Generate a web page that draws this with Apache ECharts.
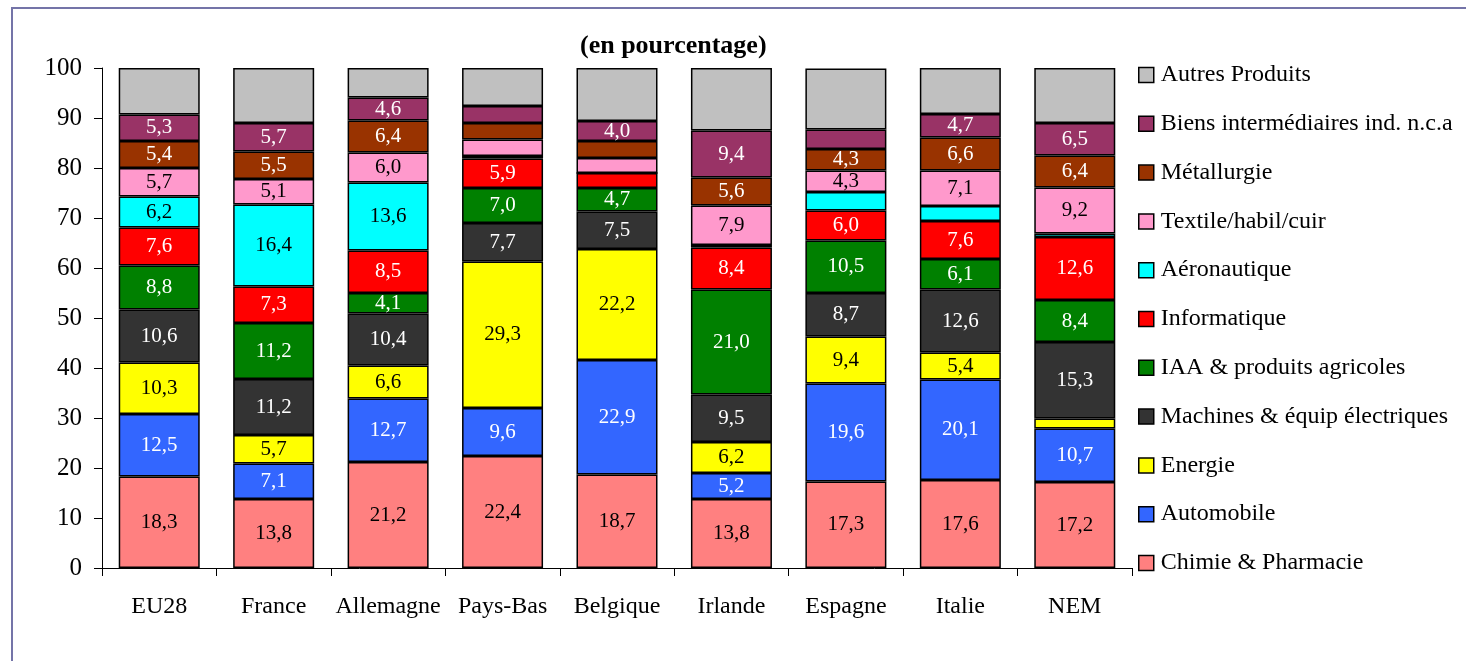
<!DOCTYPE html>
<html>
<head>
<meta charset="utf-8">
<script src="https://cdn.jsdelivr.net/npm/echarts@6/dist/echarts.min.js"></script>
<style>
  html, body { margin: 0; padding: 0; background: #fff; }
  #chart { width: 1466px; height: 661px; }
</style>
</head>
<body>
<div id="chart"></div>
<script>
// pays
var categories = ["EU28", "France", "Allemagne", "Pays-Bas", "Belgique", "Irlande", "Espagne", "Italie", "NEM"];

// séries, du bas vers le haut de la pile
var chimie      = [18.3, 13.8, 21.2, 22.4, 18.7, 13.8, 17.3, 17.6, 17.2];
var automobile  = [12.5, 7.1, 12.7, 9.6, 22.9, 5.2, 19.6, 20.1, 10.7];
var energie     = [10.3, 5.7, 6.6, 29.3, 22.2, 6.2, 9.4, 5.4, 2.0];
var machines    = [10.6, 11.2, 10.4, 7.7, 7.5, 9.5, 8.7, 12.6, 15.3];
var iaa         = [8.8, 11.2, 4.1, 7.0, 4.7, 21.0, 10.5, 6.1, 8.4];
var informatique= [7.6, 7.3, 8.5, 5.9, 3.0, 8.4, 6.0, 7.6, 12.6];
var aero        = [6.2, 16.4, 13.6, 0.5, 0, 0.5, 3.7, 3.0, 0.7];
var textile     = [5.7, 5.1, 6.0, 3.3, 3.0, 7.9, 4.3, 7.1, 9.2];
var metallurgie = [5.4, 5.5, 6.4, 3.3, 3.4, 5.6, 4.3, 6.6, 6.4];
var biens       = [5.3, 5.7, 4.6, 3.4, 4.0, 9.4, 3.9, 4.7, 6.5];
var autres      = [9.3, 11.0, 5.9, 7.6, 10.6, 12.5, 12.2, 9.2, 11.0];

var yTicks = [0, 10, 20, 30, 40, 50, 60, 70, 80, 90, 100];

var seriesDef = [
  { name: "Chimie & Pharmacie", data: chimie, color: "#FF8080", txt: "#000" },
  { name: "Automobile", data: automobile, color: "#3366FF", txt: "#fff" },
  { name: "Energie", data: energie, color: "#FFFF00", txt: "#000" },
  { name: "Machines & équip électriques", data: machines, color: "#333333", txt: "#fff" },
  { name: "IAA & produits agricoles", data: iaa, color: "#008000", txt: "#fff" },
  { name: "Informatique", data: informatique, color: "#FF0000", txt: "#fff" },
  { name: "Aéronautique", data: aero, color: "#00FFFF", txt: "#000" },
  { name: "Textile/habil/cuir", data: textile, color: "#FF99CC", txt: "#000" },
  { name: "Métallurgie", data: metallurgie, color: "#993300", txt: "#fff" },
  { name: "Biens intermédiaires ind. n.c.a", data: biens, color: "#993366", txt: "#fff" },
  { name: "Autres Produits", data: autres, color: "#C0C0C0", txt: "#000", noLabel: true }
];

var serif = "Liberation Serif";

var series = seriesDef.map(function (s) {
  return {
    name: s.name,
    type: "bar",
    stack: "total",
    barWidth: 81,
    data: s.data,
    itemStyle: { color: s.color, borderColor: "#000", borderWidth: 1.5 },
    label: {
      show: !s.noLabel,
      position: "inside",
      color: s.txt,
      fontFamily: serif,
      fontSize: 21,
      formatter: function (p) {
        if (p.value < 4) return "";
        return p.value.toFixed(1).replace(".", ",");
      }
    },
    emphasis: { disabled: true }
  };
});

var myChart = echarts.init(document.getElementById("chart"));
var option = {
  animation: false,
  backgroundColor: "#fff",
  title: {
    text: "(en pourcentage)",
    left: 575,
    top: 28,
    textStyle: { fontFamily: serif, fontSize: 26, fontWeight: "bold", color: "#000" }
  },
  legend: {
    orient: "vertical",
    left: 1133,
    top: 58,
    icon: "rect",
    itemWidth: 15,
    itemHeight: 15,
    itemGap: 24.8,
    data: seriesDef.map(function (s) { return s.name; }).reverse(),
    itemStyle: { borderColor: "#000", borderWidth: 1.5 },
    textStyle: { fontFamily: serif, fontSize: 24, color: "#000", lineHeight: 24, padding: [0, 0, 0, 2] }
  },
  grid: { left: 102, right: 334, top: 68, bottom: 93 },
  xAxis: {
    type: "category",
    data: categories,
    axisLine: { lineStyle: { color: "#000", width: 1 } },
    axisTick: { show: true, interval: 0, length: 8, lineStyle: { color: "#000" } },
    axisLabel: { interval: 0, hideOverlap: false, fontFamily: serif, fontSize: 24, color: "#000", margin: 27 }
  },
  yAxis: {
    type: "value",
    min: 0,
    max: 100,
    interval: 10,
    axisLine: { show: true, lineStyle: { color: "#000", width: 1 } },
    axisTick: { show: true, length: 8, lineStyle: { color: "#000" } },
    axisLabel: {
      fontFamily: serif, fontSize: 25, color: "#000", margin: 20,
      formatter: function (v) { return yTicks.indexOf(v) >= 0 ? String(v) : ""; }
    },
    splitLine: { show: false }
  },
  graphic: [
    {
      type: "rect",
      shape: { x: 12, y: 8, width: 1460, height: 700 },
      style: { fill: "none", stroke: "#7474A8", lineWidth: 2 },
      silent: true
    }
  ],
  series: series
};
myChart.setOption(option);
window.onresize = myChart.resize;
</script>
</body>
</html>
